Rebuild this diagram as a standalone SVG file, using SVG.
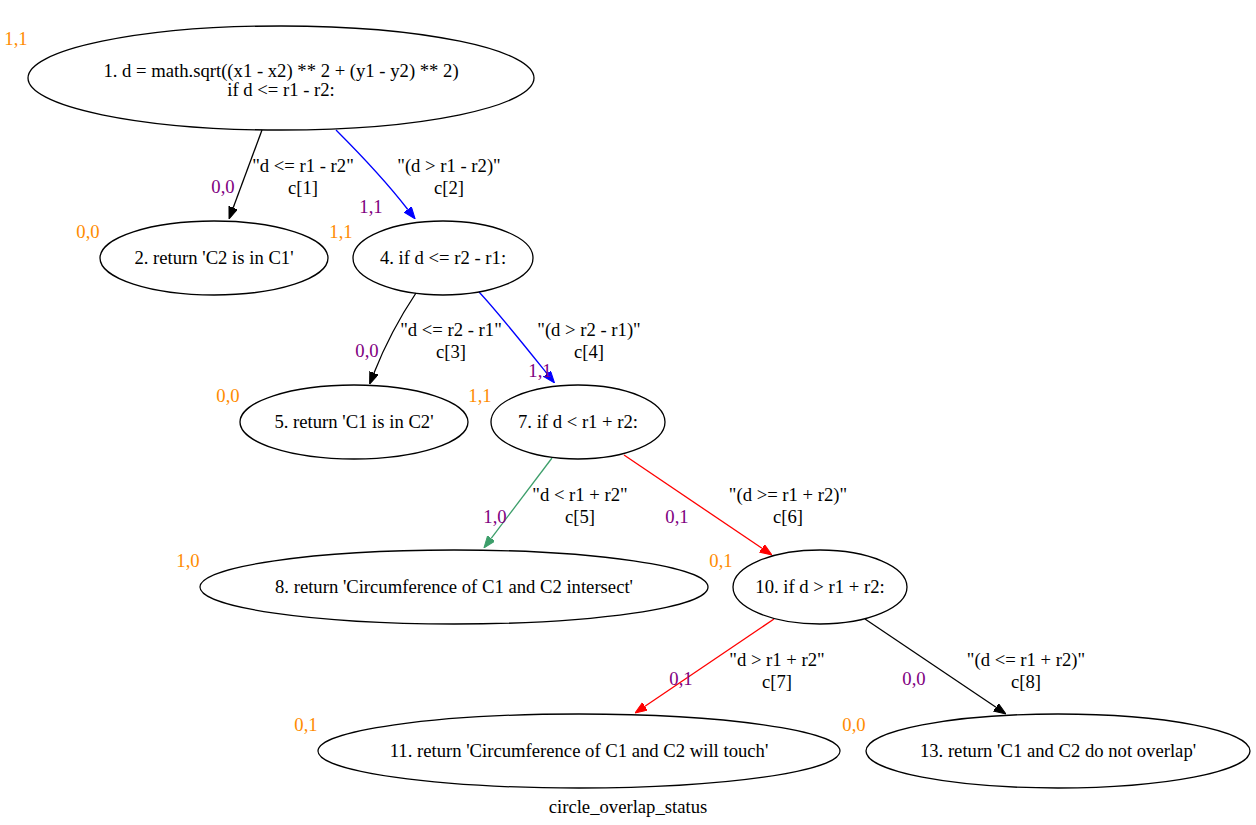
<svg xmlns="http://www.w3.org/2000/svg" width="1256" height="825" viewBox="0 0 1256 825">
<style>
text{font-family:"Liberation Serif","Times New Roman",serif;font-size:18.67px;text-anchor:middle;fill:#000}
.n ellipse{fill:none;stroke:#000;stroke-width:1.3}
.x{fill:#ff8c00}
.h{fill:#800080}
.e{fill:none;stroke-width:1.3}
</style>
<defs>
<marker id="ak" markerUnits="userSpaceOnUse" markerWidth="12" markerHeight="10" refX="0" refY="4.5" orient="auto"><path d="M0,0 L12,4.5 L0,9 Z" fill="#000" stroke="#000"/></marker>
<marker id="ab" markerUnits="userSpaceOnUse" markerWidth="12" markerHeight="10" refX="0" refY="4.5" orient="auto"><path d="M0,0 L12,4.5 L0,9 Z" fill="#0000ff" stroke="#0000ff"/></marker>
<marker id="ar" markerUnits="userSpaceOnUse" markerWidth="12" markerHeight="10" refX="0" refY="4.5" orient="auto"><path d="M0,0 L12,4.5 L0,9 Z" fill="#ff0000" stroke="#ff0000"/></marker>
<marker id="ag" markerUnits="userSpaceOnUse" markerWidth="12" markerHeight="10" refX="0" refY="4.5" orient="auto"><path d="M0,0 L12,4.5 L0,9 Z" fill="#3c9e6a" stroke="#3c9e6a"/></marker>
</defs>
<rect width="1256" height="825" fill="#fff"/>
<g id="connectors">
<path class="e" d="M262,130 L233.2,207.7" stroke="#000" marker-end="url(#ak)"/>
<path class="e" d="M336,130 C356,150 385,180 407.8,209.5" stroke="#0000ff" marker-end="url(#ab)"/>
<path class="e" d="M416,293 C404,311 387,340 374,373" stroke="#000" marker-end="url(#ak)"/>
<path class="e" d="M479,292 C496,310 520,340 547,373.6" stroke="#0000ff" marker-end="url(#ab)"/>
<path class="e" d="M552,458 L491.2,538.4" stroke="#3c9e6a" marker-end="url(#ag)"/>
<path class="e" d="M624,455 L762,548.3" stroke="#ff0000" marker-end="url(#ar)"/>
<path class="e" d="M774,619 L645,706.3" stroke="#ff0000" marker-end="url(#ar)"/>
<path class="e" d="M865,619 L996,707.3" stroke="#000" marker-end="url(#ak)"/>
<text x="303" y="171.5">"d &lt;= r1 - r2"</text><text x="303" y="193.5">c[1]</text>
<text x="449" y="171.5">"(d &gt; r1 - r2)"</text><text x="449" y="193.5">c[2]</text>
<text x="451" y="336">"d &lt;= r2 - r1"</text><text x="451" y="358">c[3]</text>
<text x="589" y="336">"(d &gt; r2 - r1)"</text><text x="589" y="358">c[4]</text>
<text x="580" y="501">"d &lt; r1 + r2"</text><text x="580" y="523">c[5]</text>
<text x="788" y="501">"(d &gt;= r1 + r2)"</text><text x="788" y="523">c[6]</text>
<text x="777" y="666">"d &gt; r1 + r2"</text><text x="777" y="688">c[7]</text>
<text x="1026" y="666">"(d &lt;= r1 + r2)"</text><text x="1026" y="688">c[8]</text>
<text class="h" x="223" y="193">0,0</text>
<text class="h" x="371" y="213">1,1</text>
<text class="h" x="367" y="357">0,0</text>
<text class="h" x="540" y="377">1,1</text>
<text class="h" x="495" y="523">1,0</text>
<text class="h" x="677" y="523">0,1</text>
<text class="h" x="681" y="685">0,1</text>
<text class="h" x="914" y="685">0,0</text>
</g>
<g id="node1" class="n"><ellipse cx="281" cy="78" rx="253" ry="52"/><text x="281" y="77">1. d = math.sqrt((x1 - x2) ** 2 + (y1 - y2) ** 2)</text><text x="281" y="96">if d &lt;= r1 - r2:</text><text class="x" x="16" y="45">1,1</text></g>
<g id="node2" class="n"><ellipse cx="214" cy="258" rx="114" ry="37"/><text x="214" y="264">2. return 'C2 is in C1'</text><text class="x" x="88" y="238">0,0</text></g>
<g id="node4" class="n"><ellipse cx="443" cy="258" rx="90" ry="37"/><text x="443" y="264">4. if d &lt;= r2 - r1:</text><text class="x" x="341" y="238">1,1</text></g>
<g id="node5" class="n"><ellipse cx="354" cy="422" rx="114" ry="37"/><text x="354" y="428">5. return 'C1 is in C2'</text><text class="x" x="228" y="402">0,0</text></g>
<g id="node7" class="n"><ellipse cx="578" cy="422" rx="87" ry="37"/><text x="578" y="428">7. if d &lt; r1 + r2:</text><text class="x" x="480" y="402">1,1</text></g>
<g id="node8" class="n"><ellipse cx="454" cy="587" rx="254" ry="37"/><text x="454" y="593">8. return 'Circumference of C1 and C2 intersect'</text><text class="x" x="188" y="567">1,0</text></g>
<g id="node10" class="n"><ellipse cx="820" cy="587" rx="87" ry="37"/><text x="820" y="593">10. if d &gt; r1 + r2:</text><text class="x" x="721" y="567">0,1</text></g>
<g id="node11" class="n"><ellipse cx="579" cy="751" rx="261" ry="37"/><text x="579" y="757">11. return 'Circumference of C1 and C2 will touch'</text><text class="x" x="306" y="731">0,1</text></g>
<g id="node13" class="n"><ellipse cx="1058" cy="751" rx="192" ry="37"/><text x="1058" y="757">13. return 'C1 and C2 do not overlap'</text><text class="x" x="854" y="731">0,0</text></g>
<text x="628" y="813">circle_overlap_status</text>
</svg>
